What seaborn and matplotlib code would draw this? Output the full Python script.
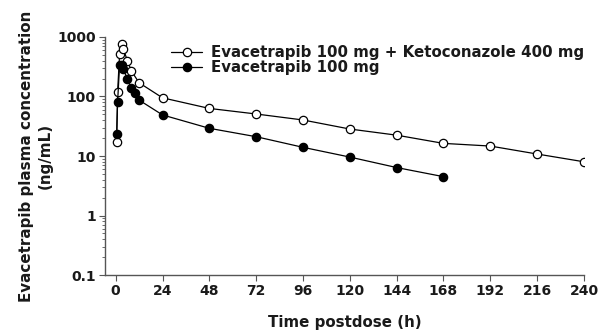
import matplotlib
matplotlib.use("Agg")
import matplotlib.pyplot as plt
import seaborn as sns
import pandas as pd
import numpy as np
from matplotlib.ticker import FixedLocator, FixedFormatter, LogLocator, NullFormatter

sns.set_theme(style="ticks")
plt.rcParams['font.family'] = ['DejaVu Sans']
plt.rcParams['font.weight'] = 'bold'

time_keto = [0.5, 1, 2, 3, 4, 6, 8, 12, 24, 48, 72, 96, 120, 144, 168, 192, 216, 240]
conc_keto = [17.4, 120, 510, 760, 620, 400, 270, 170, 95, 63, 50.8, 40.3, 28.4, 22.4, 16.3, 14.7, 10.8, 8.0]
time_alone = [0.5, 1, 2, 3, 4, 6, 8, 10, 12, 24, 48, 72, 96, 120, 144, 168]
conc_alone = [23.4, 82, 339, 340, 285, 197, 138, 116, 87, 49, 29.2, 21.1, 14.0, 9.6, 6.4, 4.5]
labels = ["Evacetrapib 100 mg + Ketoconazole 400 mg", "Evacetrapib 100 mg"]
xticks = [0, 24, 48, 72, 96, 120, 144, 168, 192, 216, 240]
yticks = [0.1, 1, 10, 100, 1000]
ytick_labels = ["0.1", "1", "10", "100", "1000"]

df_k = pd.DataFrame({"t": time_keto, "c": conc_keto})
df_a = pd.DataFrame({"t": time_alone, "c": conc_alone})

TXT = "#1a1a1a"

fig = plt.figure(figsize=(6.02, 3.33), dpi=100)
ax = fig.add_axes([0.174, 0.174, 0.796, 0.715])

sns.lineplot(data=df_k, x="t", y="c", ax=ax, color="black", lw=0.9,
             marker="o", markersize=6, markerfacecolor="white",
             markeredgecolor="black", markeredgewidth=0.9, label=labels[0])
sns.lineplot(data=df_a, x="t", y="c", ax=ax, color="black", lw=0.9,
             marker="o", markersize=6, markerfacecolor="black",
             markeredgecolor="black", markeredgewidth=0.9, label=labels[1])

ax.set_yscale("log")
ax.set_ylim(0.1, 1000)
ax.set_xlim(-5.6, 240)
ax.yaxis.set_major_locator(FixedLocator(yticks))
ax.yaxis.set_major_formatter(FixedFormatter(ytick_labels))
ax.yaxis.set_minor_locator(LogLocator(base=10, subs=np.arange(2, 10)))
ax.yaxis.set_minor_formatter(NullFormatter())
ax.set_xticks(xticks)
ax.set_xticklabels([str(x) for x in xticks])

for s in ["top", "right"]:
    ax.spines[s].set_visible(False)
for s in ["left", "bottom"]:
    ax.spines[s].set_color("#555555")
    ax.spines[s].set_linewidth(1.0)

ax.tick_params(axis="both", which="major", labelsize=10, length=4, width=0.8,
               color="#555555", labelcolor=TXT, pad=2.5)
ax.tick_params(axis="y", which="minor", length=2, width=0.6, color="#555555")
for lab in ax.get_xticklabels() + ax.get_yticklabels():
    lab.set_fontweight("bold")

ax.set_xlabel("Time postdose (h)", fontsize=10.8, fontweight="bold", labelpad=12, color=TXT)
ax.set_ylabel("Evacetrapib plasma concentration\n(ng/mL)", fontsize=10.9, fontweight="bold",
              labelpad=3, color=TXT, linespacing=1.36)

leg = ax.legend(loc="upper left", bbox_to_anchor=(171 / 602, 1 - 45 / 333),
                bbox_transform=fig.transFigure, frameon=False,
                prop={"weight": "bold", "size": 10.8}, handlelength=2.1,
                labelspacing=0.0, handletextpad=0.6, borderaxespad=0, borderpad=0)
for t in leg.get_texts():
    t.set_color(TXT)

fig.savefig("out.png", dpi=100)
